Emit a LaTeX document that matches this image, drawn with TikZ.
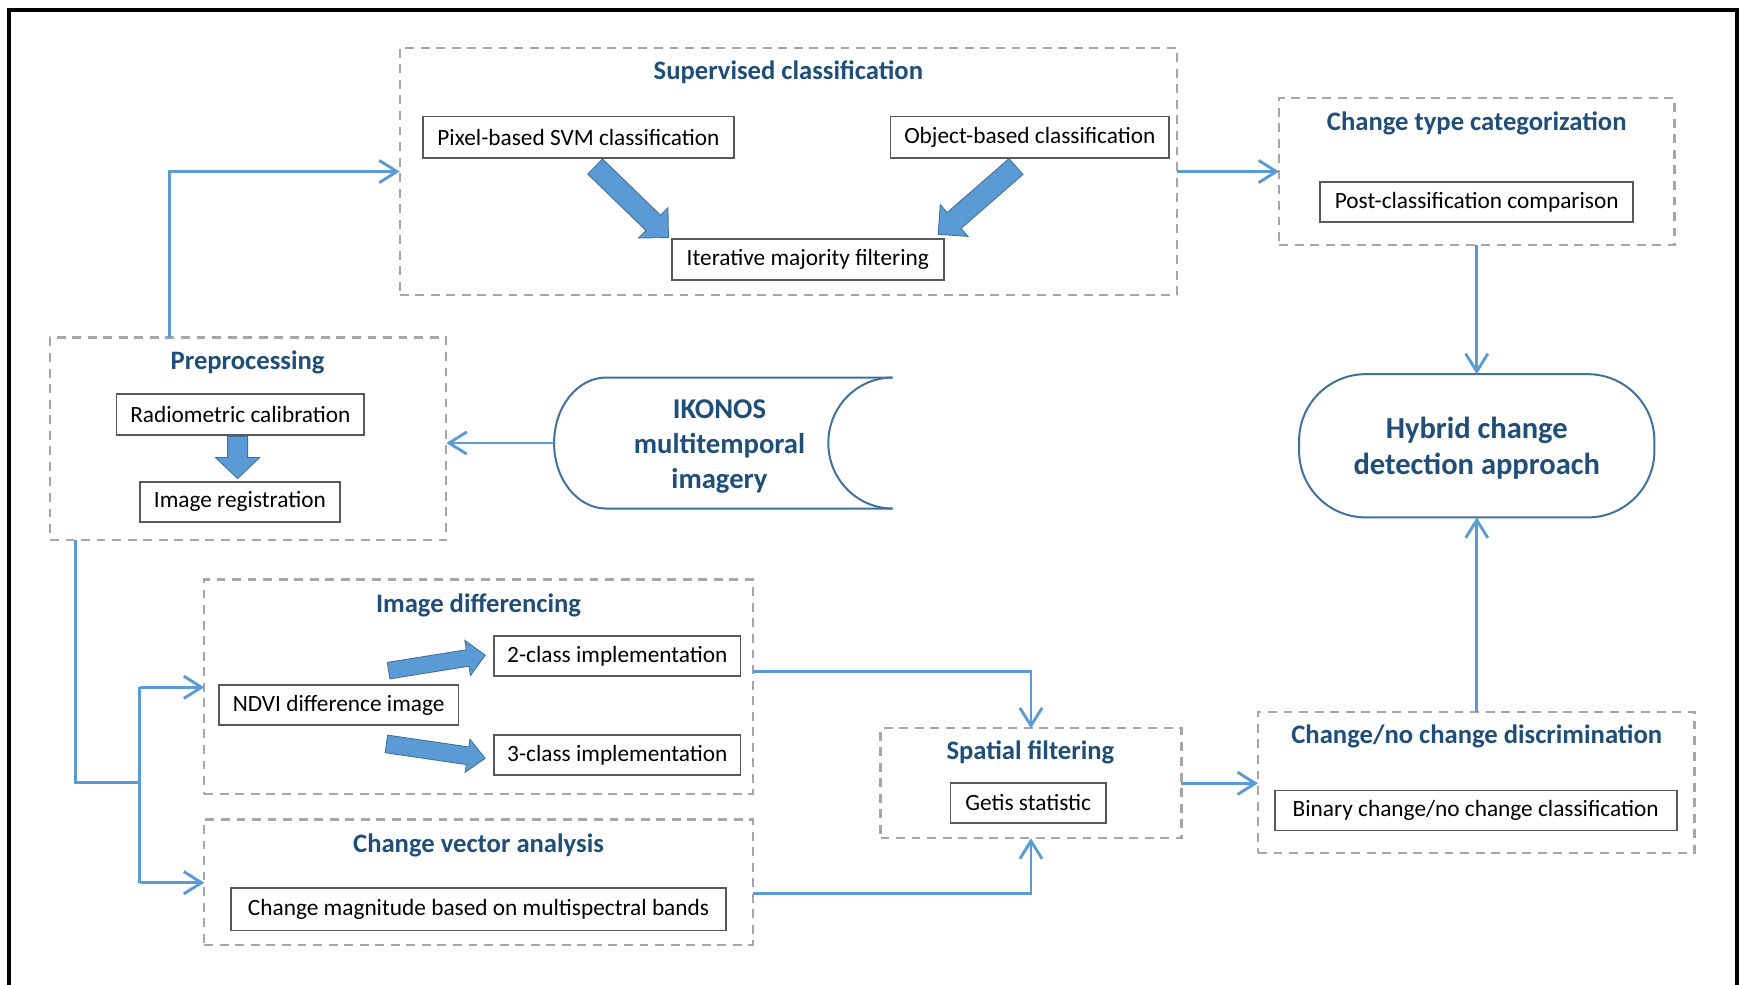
\documentclass[tikz,border=0pt]{standalone}
\usepackage{fontspec}
\setmainfont{Carlito}
\usetikzlibrary{arrows.meta,calc}
\definecolor{dgray}{HTML}{A6A6A6}
\definecolor{bgray}{HTML}{595959}
\definecolor{ablue}{HTML}{5B9BD5}
\definecolor{tblue}{HTML}{1F4E79}
\definecolor{oblue}{HTML}{41719C}
\newcommand\blockarrow[7]{%
  \begin{scope}[shift={(#1,#2)},rotate=#3]
    \path[barrow] (0,-#5/2) -- ({#4-#7},-#5/2) -- ({#4-#7},-#6/2) -- (#4,0)
      -- ({#4-#7},#6/2) -- ({#4-#7},#5/2) -- (0,#5/2) -- cycle;
  \end{scope}}
\begin{document}
\begin{tikzpicture}[x=0.5pt,y=-0.5pt,
  group/.style={draw=dgray, line width=1pt, dash pattern=on 4pt off 3pt, inner sep=0pt, outer sep=0pt},
  title/.style={font=\bfseries\fontsize{12}{14}\selectfont, text=tblue, inner sep=0pt},
  item/.style={draw=bgray, line width=0.8pt, fill=white, inner sep=0pt, outer sep=0pt,
    font=\fontsize{10.5}{12}\selectfont, minimum height=18.5pt},
  conn/.style={draw=ablue, line width=1.3pt, -{Straight Barb[length=8pt,width=10pt]}},
  link/.style={draw=ablue, line width=1.3pt},
  barrow/.style={fill=ablue, draw=oblue, line width=0.4pt},
  bigtext/.style={font=\bfseries\fontsize{13.75}{16.5}\selectfont, text=tblue, align=center, inner sep=0pt}
]
\useasboundingbox (0,0) rectangle (1568,887);
% outer frame
\draw[line width=1.75pt] (8,900) -- (8,9) -- (1564,9) -- (1564,900);

% group boxes
\node[group, minimum width=350pt, minimum height=111.5pt] (sup) at (710,154.5) {};
\node[group, minimum width=178pt, minimum height=66.5pt] (ct) at (1330,154.5) {};
\node[group, minimum width=178.5pt, minimum height=91pt] (pre) at (223.5,395) {};
\node[group, minimum width=247pt, minimum height=96.5pt] (idf) at (431,618.5) {};
\node[group, minimum width=247pt, minimum height=56.5pt] (cva) at (431,794.5) {};
\node[group, minimum width=135.5pt, minimum height=49.5pt] (sp) at (928.5,705.5) {};
\node[group, minimum width=196.5pt, minimum height=63.5pt] (cnd) at (1329.5,704.5) {};

% titles
\node[title] (tsup) at (710,65) {Supervised classification};
\node[title] (tct) at (1330,111) {Change type categorization};
\node[title] (tpre) at (223,326) {Preprocessing};
\node[title] (tidf) at (431,545) {Image differencing};
\node[title] (tcva) at (431,761) {Change vector analysis};
\node[title] (tsp) at (928,678) {Spatial filtering};
\node[title] (tcnd) at (1330,663) {Change/no change discrimination};

% items
\node[item, minimum width=140pt] (pix) at (521,123.5) {Pixel-based SVM classification};
\node[item, minimum width=125.5pt] (obj) at (927.5,123.5) {Object-based classification};
\node[item, minimum width=122.5pt] (itf) at (727.5,233.5) {Iterative majority filtering};
\node[item, minimum width=141pt, minimum height=18pt] (pcc) at (1330,182) {Post-classification comparison};
\node[item, minimum width=111.5pt] (rad) at (216.5,373.5) {Radiometric calibration};
\node[item, minimum width=90pt, minimum height=18pt] (reg) at (216,452) {Image registration};
\node[item, minimum width=108pt, minimum height=18pt] (ndvi) at (305,635) {NDVI difference image};
\node[item, minimum width=111pt, minimum height=18pt] (two) at (556,591) {2-class implementation};
\node[item, minimum width=111pt, minimum height=18pt] (three) at (556,680) {3-class implementation};
\node[item, minimum width=223pt, minimum height=19pt] (mag) at (431,819) {Change magnitude based on multispectral bands};
\node[item, minimum width=70pt, minimum height=18pt] (get) at (926,723) {Getis statistic};
\node[item, minimum width=181pt, minimum height=18pt] (bin) at (1329,730) {Binary change/no change classification};

% hybrid terminal
\node[draw=oblue, line width=0.9pt, rounded corners=30pt, minimum width=160pt, minimum height=64.5pt,
  inner sep=0pt, outer sep=0pt] (hyb) at (1330,401.5) {};
\node[bigtext] (hybt) at (1330,403.5) {Hybrid change\\detection approach};

% IKONOS storage shape
\draw[draw=oblue, line width=0.9pt] (804,340) -- (546,340)
  arc[start angle=90, end angle=270, x radius=23.5pt, y radius=29.5pt] -- (804,458);
\draw[draw=oblue, line width=0.9pt] (804,340)
  arc[start angle=90, end angle=270, x radius=29pt, y radius=29.5pt];
\node[bigtext, font=\bfseries\fontsize{12.9}{15.75}\selectfont] (iko) at (648,402.5) {IKONOS\\multitemporal\\imagery};
\coordinate (ikL) at (499,399);

% block arrows
\blockarrow{536}{150}{-44.1}{91.9}{19}{38}{19}
\blockarrow{915}{150}{-138.9}{92.9}{19}{38}{19}
\blockarrow{214}{393}{-90}{38}{18}{40}{19}
\blockarrow{350}{604}{9.1}{88.1}{15}{32}{16}
\blockarrow{348}{670}{-8.3}{89.9}{16}{30}{16}

% helper coordinates
\coordinate (x153) at (153,0);
\coordinate (x68) at (68,0);
\coordinate (jm) at (126,705);
\coordinate (jt) at (126,619);
\coordinate (jb) at (126,795);
\coordinate (y605) at (0,605);
\coordinate (y805) at (0,805);

% connectors
\draw[conn] (pre.north -| x153) |- (sup.west);
\draw[conn] (sup.east) -- (ct.west);
\draw[conn] (ct.south) -- (hyb.north);
\draw[conn] (cnd.north -| hyb.south) -- (hyb.south);
\draw[conn] (ikL) -- (ikL -| pre.east);
\draw[link] (pre.south -| x68) |- (jm);
\draw[link] (jt) -- (jb);
\draw[conn] (jt) -- (jt -| idf.west);
\draw[conn] (jb) -- (jb -| cva.west);
\draw[conn] (idf.east |- y605) -| (sp.north);
\draw[conn] (cva.east |- y805) -| (sp.south);
\draw[conn] (sp.east) -- (sp.east -| cnd.west);
\end{tikzpicture}
\end{document}
